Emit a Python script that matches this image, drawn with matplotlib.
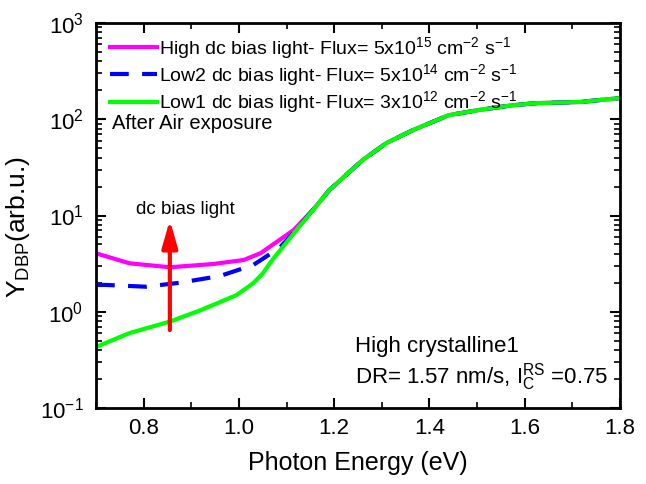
import matplotlib
matplotlib.use('Agg')
import matplotlib.pyplot as plt
from matplotlib.ticker import LogLocator, NullFormatter, MultipleLocator

plt.rcParams['font.family'] = ['Liberation Sans', 'DejaVu Sans']
plt.rcParams['mathtext.fontset'] = 'custom'
plt.rcParams['mathtext.rm'] = 'Liberation Sans'
plt.rcParams['mathtext.it'] = 'Liberation Sans:italic'
plt.rcParams['mathtext.bf'] = 'Liberation Sans:bold'

# data
high_x = [0.70, 0.77, 0.855, 0.945, 1.01, 1.045, 1.085, 1.115, 1.155]
high_y = [4.05, 3.19, 2.90, 3.13, 3.45, 4.05, 5.56, 7.07, 11.4]

low2_x = [0.70, 0.72, 0.805, 0.875, 0.96, 1.03, 1.085, 1.115]
low2_y = [1.90, 1.90, 1.82, 2.00, 2.35, 3.06, 4.60, 6.60]

low1_x = [0.70, 0.77, 0.855, 0.92, 0.995, 1.03, 1.05, 1.07, 1.115]
low1_y = [0.43, 0.60, 0.79, 1.04, 1.49, 1.98, 2.50, 3.45, 6.50]

# common part above ~1.18 eV where the three curves coincide
tail_x = [1.19, 1.26, 1.31, 1.365, 1.44, 1.505, 1.575, 1.625, 1.715, 1.80]
tail_y = [18.4, 37.8, 56.7, 77.0, 110.0, 125.0, 140.0, 147.0, 151.0, 166.0]

labels = [r'High dc bias light- Flux= 5x10$^{15}$ cm$^{-2}$ s$^{-1}$',
          r'Low2 dc bias light- Flux= 5x10$^{14}$ cm$^{-2}$ s$^{-1}$',
          r'Low1 dc bias light- Flux= 3x10$^{12}$ cm$^{-2}$ s$^{-1}$']

arrow_x = 0.855
arrow_y = [0.645, 9.0]

fig = plt.figure(figsize=(6.46, 4.84), dpi=100)
ax = fig.add_subplot(111)
fig.subplots_adjust(left=0.1486, right=0.9598, bottom=0.157, top=0.9525)

ax.plot(high_x + tail_x, high_y + tail_y, color='#ff00ff', lw=3, label=labels[0])
ax.plot(low2_x + tail_x, low2_y + tail_y, color='#0000ff', lw=3,
        dashes=(4.5, 3.2), label=labels[1])
ax.plot(low1_x + tail_x, low1_y + tail_y, color='#00ff00', lw=3, label=labels[2])

ax.annotate('', xy=(arrow_x, arrow_y[1]), xytext=(arrow_x, arrow_y[0]),
            arrowprops=dict(arrowstyle='-|>,head_length=1.65,head_width=0.47',
                            color='red', lw=3, mutation_scale=10,
                            shrinkA=0, shrinkB=0))

ax.set_yscale('log')
ax.set_xlim(0.7, 1.8)
ax.set_ylim(0.1, 1000)
ax.xaxis.set_major_locator(MultipleLocator(0.2))
ax.xaxis.set_minor_locator(MultipleLocator(0.1))
ax.yaxis.set_major_locator(LogLocator(base=10, numticks=10))
ax.yaxis.set_minor_locator(LogLocator(base=10, subs=range(2, 10), numticks=10))
ax.yaxis.set_minor_formatter(NullFormatter())

ax.tick_params(which='both', direction='in', top=True, right=True,
               labelsize=16, pad=9)
ax.tick_params(axis='x', which='both', pad=7)
ax.tick_params(which='major', length=7, width=1.5)
ax.tick_params(which='minor', length=4, width=1.2)
for s in ax.spines.values():
    s.set_linewidth(2)

ax.set_xlabel('Photon Energy (eV)', fontsize=18, labelpad=9)
ax.set_ylabel(r'Y$_{\mathregular{DBP}}$(arb.u.)', fontsize=19, labelpad=-2)
ax.yaxis.set_label_coords(-0.122, 0.47)

ax.legend(loc='upper left', bbox_to_anchor=(0.005, 1.0), frameon=False,
          fontsize=14, handlelength=2.4, handletextpad=0.1,
          labelspacing=0.08, borderaxespad=0.2)

ax.text(0.0305, 0.74, 'After Air exposure', transform=ax.transAxes,
        fontsize=14.5, va='center', ha='left')
ax.text(0.17, 0.515, 'dc bias light', transform=ax.transAxes,
        fontsize=13.5, va='center', ha='center')
ax.text(0.494, 0.161, 'High crystalline1', transform=ax.transAxes,
        fontsize=16, va='center', ha='left')
ax.text(0.494, 0.081, r'DR= 1.57 nm/s, I$_{\mathregular{C}}^{\mathregular{RS}}$ =0.75',
        transform=ax.transAxes, fontsize=16, va='center', ha='left')

fig.savefig('out.png', dpi=100)
